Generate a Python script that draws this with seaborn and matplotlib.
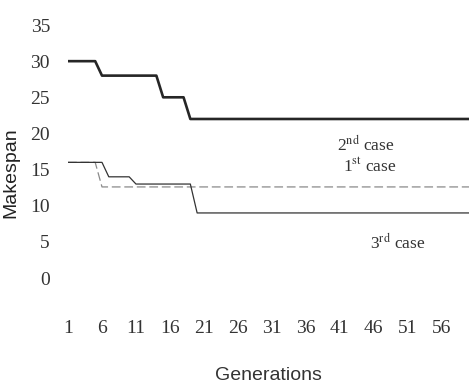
import matplotlib
matplotlib.use('Agg')
import matplotlib.pyplot as plt
import seaborn as sns
import pandas as pd

# Makespan değerleri (grafikten okunan kırılma noktaları)
gen_case2 = [1, 5, 6, 14, 15, 18, 19, 60]
mks_case2 = [30, 30, 28, 28, 25, 25, 22, 22]

gen_case3 = [1, 6, 7, 10, 11, 19, 20, 60]
mks_case3 = [16, 16, 14, 14, 13, 13, 9, 9]

gen_case1 = [1, 5, 6, 60]
mks_case1 = [16, 16, 12.6, 12.6]

x_ticks = [1, 6, 11, 16, 21, 26, 31, 36, 41, 46, 51, 56]
y_ticks = [0, 5, 10, 15, 20, 25, 30, 35]

sns.set_style("white")
plt.rcParams['mathtext.fontset'] = 'stix'

fig = plt.figure(figsize=(4.69, 3.88), dpi=100)
ax = fig.add_axes([0.145, 0.2835, 0.855, 0.652])

df2 = pd.DataFrame({'Generations': gen_case2, 'Makespan': mks_case2})
df3 = pd.DataFrame({'Generations': gen_case3, 'Makespan': mks_case3})
df1 = pd.DataFrame({'Generations': gen_case1, 'Makespan': mks_case1})

sns.lineplot(data=df1, x='Generations', y='Makespan', ax=ax, color='#8a8a8a',
             linewidth=0.9, linestyle=(0, (7, 3)))
sns.lineplot(data=df3, x='Generations', y='Makespan', ax=ax, color='#333333', linewidth=0.9)
sns.lineplot(data=df2, x='Generations', y='Makespan', ax=ax, color='#262626', linewidth=1.9)

ax.set_xlim(1, 60)
ax.set_ylim(0, 35)
ax.set_xticks(x_ticks)
ax.set_yticks(y_ticks)
for s in ax.spines.values():
    s.set_visible(False)

serif = ['Liberation Serif', 'DejaVu Serif']
sans = ['Liberation Sans', 'DejaVu Sans']
ax.tick_params(axis='x', length=0, pad=30, labelsize=14, colors='#333333')
ax.tick_params(axis='y', length=0, pad=13, labelsize=14, colors='#333333')
for lab in ax.get_xticklabels() + ax.get_yticklabels():
    lab.set_fontfamily(serif)

ax.set_xlabel('Generations', fontsize=14, family=sans, color='#333333')
ax.set_ylabel('Makespan', fontsize=14, family=sans, color='#222222')
ax.xaxis.set_label_coords(0.5, -0.35)
ax.yaxis.set_label_coords(-0.122, 0.415)

txt = dict(fontsize=12.5, family=serif, color='#333333', va='center', ha='left')
ax.text(40.6, 18.4, r'2$^{\mathrm{nd}}$ case', **txt)
ax.text(41.4, 15.4, r'1$^{\mathrm{st}}$ case', **txt)
ax.text(45.4, 4.8, r'3$^{\mathrm{rd}}$ case', **txt)

fig.savefig('out.png', dpi=100, facecolor='white')
